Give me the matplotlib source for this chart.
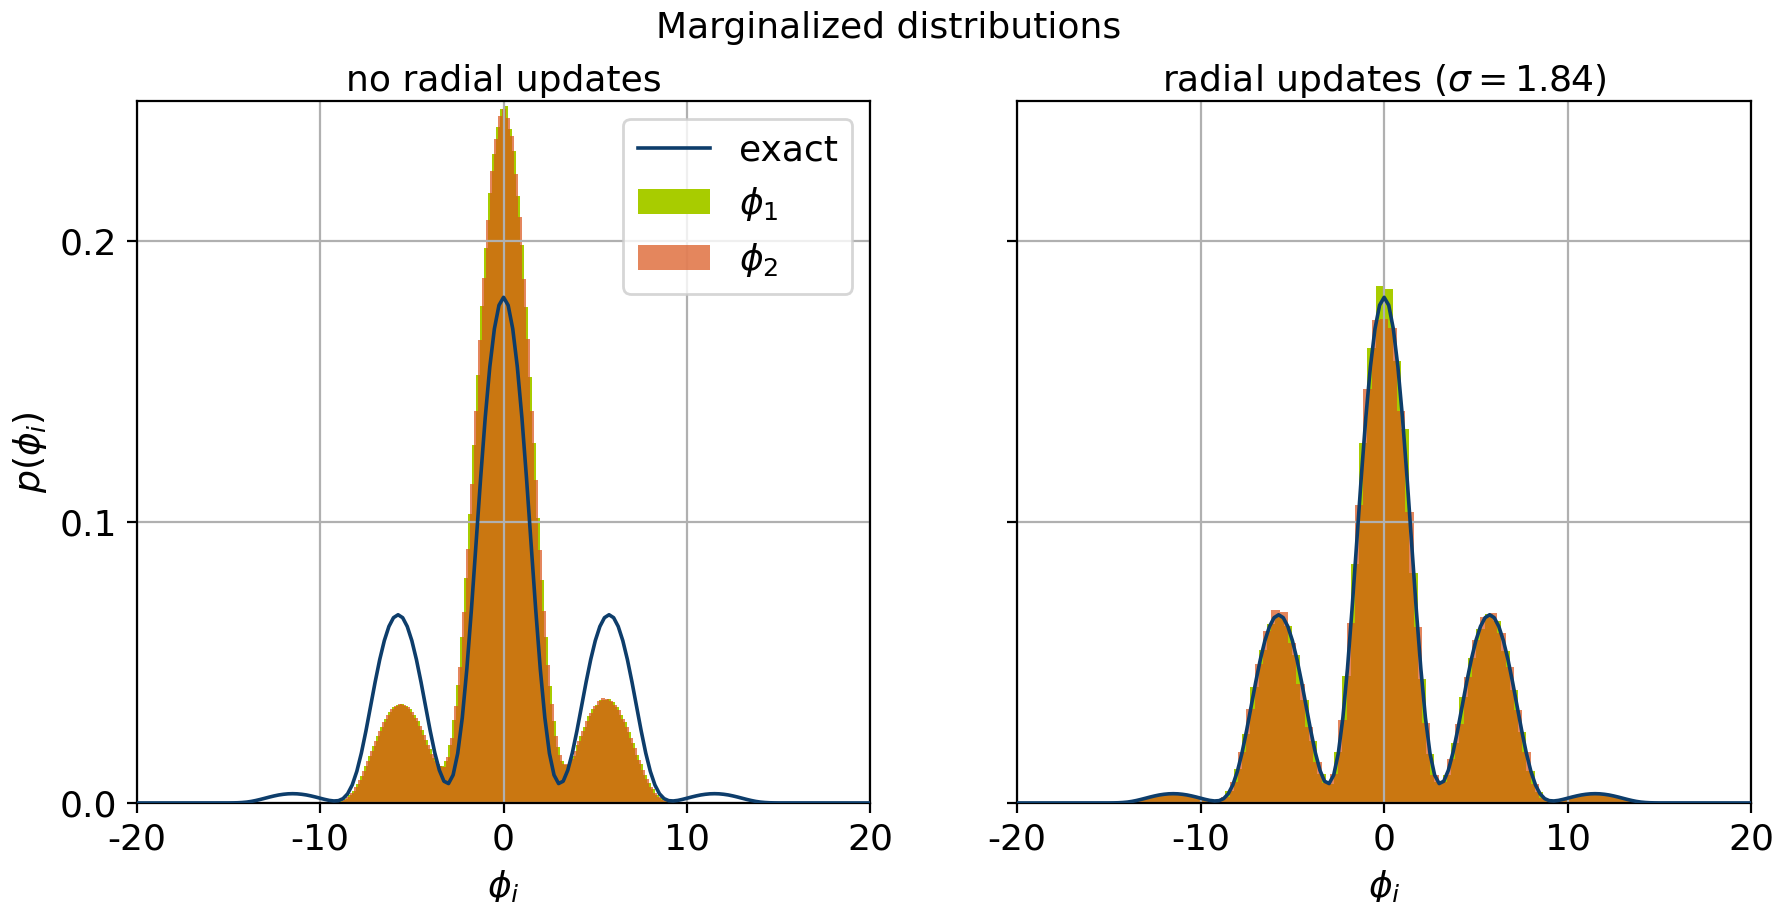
import numpy as np
import matplotlib
matplotlib.use("Agg")
import matplotlib.pyplot as plt

plt.rcParams["font.family"] = ["DejaVu Sans"]
plt.rcParams["font.size"] = 13
plt.rcParams["axes.titlesize"] = 13
plt.rcParams["axes.unicode_minus"] = False

# ---------------------------------------------------------------- data
# exact marginal density p(phi), tabulated on -15..15 (step 0.25) plus the plot ends
exact_x = np.concatenate([[-20.0], np.linspace(-15.0, 15.0, 121), [20.0]])
exact_p = np.array([
    0.0,
    0.00001, 0.00003, 0.00007, 0.00016, 0.00031, 0.00055, 0.00088, 0.00127,
    0.00169, 0.00212, 0.00251, 0.00285, 0.00309, 0.00325, 0.00330, 0.00325,
    0.00309, 0.00285, 0.00251, 0.00212, 0.00169, 0.00127, 0.00091, 0.00071,
    0.00082, 0.00154, 0.00326, 0.00640, 0.01124, 0.01778, 0.02570, 0.03437,
    0.04305, 0.05105, 0.05778, 0.06283, 0.06595, 0.06700, 0.06595, 0.06283,
    0.05778, 0.05105, 0.04305, 0.03437, 0.02571, 0.01788, 0.01165, 0.00774,
    0.00691, 0.00995, 0.01763, 0.03034, 0.04781, 0.06904, 0.09232, 0.11567,
    0.13714, 0.15523, 0.16880, 0.17717,
    0.18000,
    0.17717, 0.16880, 0.15523, 0.13714, 0.11567, 0.09232, 0.06904, 0.04781,
    0.03034, 0.01763, 0.00995, 0.00691, 0.00774, 0.01165, 0.01788, 0.02571,
    0.03437, 0.04305, 0.05105, 0.05778, 0.06283, 0.06595, 0.06700, 0.06595,
    0.06283, 0.05778, 0.05105, 0.04305, 0.03437, 0.02570, 0.01778, 0.01124,
    0.00640, 0.00326, 0.00154, 0.00082, 0.00071, 0.00091, 0.00127, 0.00169,
    0.00212, 0.00251, 0.00285, 0.00309, 0.00325, 0.00330, 0.00325, 0.00309,
    0.00285, 0.00251, 0.00212, 0.00169, 0.00127, 0.00088, 0.00055, 0.00031,
    0.00016, 0.00007, 0.00003, 0.00001,
    0.0,
])

# sampled histograms without radial updates (density per bin)
left_edges_phi1 = np.linspace(-9.15, 9.15, 85)
left_phi1 = [
    0.0003, 0.0008, 0.0015, 0.0027, 0.0044, 0.0068, 0.0096, 0.0130, 0.0166, 0.0203,
    0.0240, 0.0272, 0.0300, 0.0323, 0.0340, 0.0350, 0.0352, 0.0345, 0.0334, 0.0313,
    0.0290, 0.0258, 0.0224, 0.0192, 0.0161, 0.0140, 0.0132, 0.0150, 0.0205, 0.0295,
    0.0420, 0.0590, 0.0800, 0.1030, 0.1275, 0.1525, 0.1770, 0.1975, 0.2170, 0.2310,
    0.2405, 0.2470,
    0.2480, 0.2400, 0.2320, 0.2160, 0.1985, 0.1765, 0.1515, 0.1280, 0.1015, 0.0795,
    0.0590, 0.0415, 0.0290, 0.0200, 0.0150, 0.0135, 0.0145, 0.0168, 0.0205, 0.0238,
    0.0270, 0.0308, 0.0334, 0.0350, 0.0366, 0.0368, 0.0371, 0.0360, 0.0342, 0.0314,
    0.0288, 0.0254, 0.0215, 0.0172, 0.0138, 0.0100, 0.0072, 0.0048, 0.0028, 0.0017,
    0.0008, 0.0004,
]
left_edges_phi2 = np.linspace(-9.259, 9.041, 85)
left_phi2 = [
    0.0002, 0.0005, 0.0011, 0.0020, 0.0036, 0.0056, 0.0083, 0.0113, 0.0148, 0.0185,
    0.0222, 0.0256, 0.0288, 0.0313, 0.0333, 0.0346, 0.0352, 0.0350, 0.0341, 0.0325,
    0.0303, 0.0275, 0.0242, 0.0207, 0.0176, 0.0148, 0.0130, 0.0128, 0.0165, 0.0232,
    0.0345, 0.0485, 0.0680, 0.0905, 0.1135, 0.1395, 0.1648, 0.1870, 0.2075, 0.2250,
    0.2365, 0.2445,
    0.2470,
    0.2440, 0.2375, 0.2240, 0.2085, 0.1865, 0.1650, 0.1395, 0.1150, 0.0900, 0.0685,
    0.0492, 0.0352, 0.0240, 0.0172, 0.0140, 0.0138, 0.0158, 0.0186, 0.0220, 0.0256,
    0.0290, 0.0322, 0.0345, 0.0362, 0.0372, 0.0370, 0.0362, 0.0348, 0.0330, 0.0300,
    0.0270, 0.0232, 0.0195, 0.0154, 0.0118, 0.0087, 0.0058, 0.0037, 0.0022, 0.0012,
    0.0006,
]

# sampled histograms with radial updates
right_edges_phi1 = np.linspace(-13.68, 13.68, 61)
right_phi1 = [
    0.0009, 0.0016, 0.0025, 0.0031, 0.0034, 0.0032, 0.0027, 0.0021, 0.0014, 0.0008,
    0.0011, 0.0041, 0.0121, 0.0246, 0.0412, 0.0544, 0.0636, 0.0662, 0.0631, 0.0528,
    0.0366, 0.0221, 0.0103, 0.0069, 0.0181, 0.0452, 0.0851, 0.1282, 0.1621, 0.1842,
    0.1830, 0.1575, 0.1330, 0.0817, 0.0441, 0.0176, 0.0073, 0.0099, 0.0214, 0.0376,
    0.0517, 0.0620, 0.0672, 0.0648, 0.0541, 0.0402, 0.0254, 0.0114, 0.0038, 0.0010,
    0.0007, 0.0013, 0.0022, 0.0029, 0.0032, 0.0033, 0.0030, 0.0024, 0.0017, 0.0010,
]
right_edges_phi2 = np.linspace(-13.9, 13.46, 61)
right_phi2 = [
    0.0006, 0.0013, 0.0022, 0.0028, 0.0033, 0.0034, 0.0030, 0.0024, 0.0016, 0.0009,
    0.0008, 0.0022, 0.0076, 0.0183, 0.0335, 0.0495, 0.0612, 0.0688, 0.0679, 0.0570,
    0.0422, 0.0270, 0.0145, 0.0072, 0.0104, 0.0295, 0.0640, 0.1060, 0.1475, 0.1720,
    0.1722, 0.1690, 0.1395, 0.1035, 0.0625, 0.0283, 0.0101, 0.0075, 0.0155, 0.0282,
    0.0448, 0.0580, 0.0662, 0.0676, 0.0605, 0.0485, 0.0332, 0.0180, 0.0068, 0.0019,
    0.0008, 0.0010, 0.0017, 0.0025, 0.0031, 0.0033, 0.0032, 0.0028, 0.0021, 0.0012,
]

titles = ["no radial updates", r"radial updates ($\sigma = 1.84$)"]

# ---------------------------------------------------------------- style
GREEN = "#a8cc00"
ORANGE = "#d95319"
BLUE = "#0d3d6b"

fig, axes = plt.subplots(1, 2, sharey=True, figsize=(8.885, 4.51), dpi=200)
fig.subplots_adjust(left=0.0769, right=0.9854, bottom=0.1098, top=0.8884, wspace=0.2)

panels = [
    (left_edges_phi1, left_phi1, left_edges_phi2, left_phi2),
    (right_edges_phi1, right_phi1, right_edges_phi2, right_phi2),
]

for ax, (e1, h1, e2, h2), title in zip(axes, panels, titles):
    ax.plot(exact_x, exact_p, color=BLUE, lw=1.3, label="exact", zorder=3)
    ax.hist(e1[:-1], bins=e1, weights=h1, color=GREEN, label=r"$\phi_1$")
    ax.hist(e2[:-1], bins=e2, weights=h2, color=ORANGE, alpha=0.7, label=r"$\phi_2$")
    ax.set_xlim(-20, 20)
    ax.set_ylim(0, 0.25)
    ax.set_xticks([-20, -10, 0, 10, 20])
    ax.set_yticks([0.0, 0.1, 0.2])
    ax.grid(True)
    ax.set_title(title, pad=3.5)
    ax.set_xlabel(r"$\phi_i$")

axes[0].set_ylabel(r"$p(\phi_i)$")
axes[0].legend(loc="upper right")
fig.suptitle("Marginalized distributions", y=0.988, va="top", fontsize=13)

fig.savefig("out.png", dpi=200)
